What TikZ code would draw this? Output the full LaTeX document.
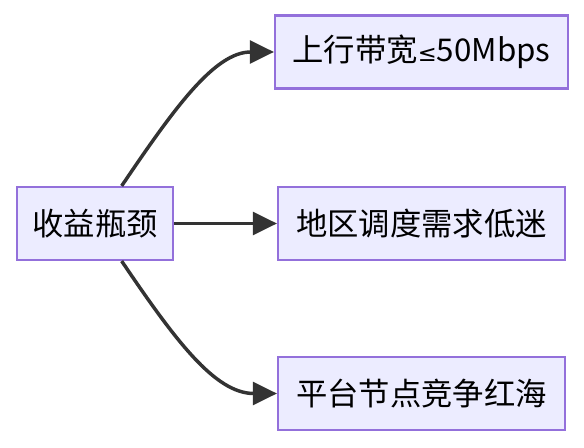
\documentclass[tikz,border=0pt]{standalone}
\usepackage{fontspec}
\setmainfont{Noto Sans CJK SC}
\newfontfamily\symfont{DejaVu Sans}
\usetikzlibrary{arrows.meta}
\definecolor{boxfill}{HTML}{ECECFF}
\definecolor{boxline}{HTML}{9370DB}
\definecolor{linkcol}{HTML}{333333}
\begin{document}
\begin{tikzpicture}[x=0.75pt,y=-0.75pt,
	box/.style={draw=boxline,fill=boxfill,line width=1.6pt,minimum height=54.75pt,inner sep=0pt,font=\fontsize{23.5}{28}\selectfont},
	link/.style={draw=linkcol,line width=2.6pt,-{Triangle[length=18pt,width=17pt]}}]
	\useasboundingbox (0,0) rectangle (584,448);
	\node[box,minimum width=117pt] (bneck) at (95,223.5) {收益瓶颈};
	\node[box,minimum width=219.75pt] (upl) at (421.5,52) {上行带宽{\symfont\fontsize{17}{20}\selectfont ≤}50Mbps};
	\node[box,minimum width=215.25pt] (dem) at (421.5,223.5) {地区调度需求低迷};
	\node[box,minimum width=215.25pt] (comp) at (421.5,393.5) {平台节点竞争红海};
	\draw[link] ([xshift=20pt]bneck.north) .. controls (175,107) and (215,52) .. (upl.west);
	\draw[link] (bneck.east) -- (dem.west);
	\draw[link] ([xshift=20pt]bneck.south) .. controls (175,340) and (215,393.5) .. (comp.west);
	\end{tikzpicture}
\end{document}
